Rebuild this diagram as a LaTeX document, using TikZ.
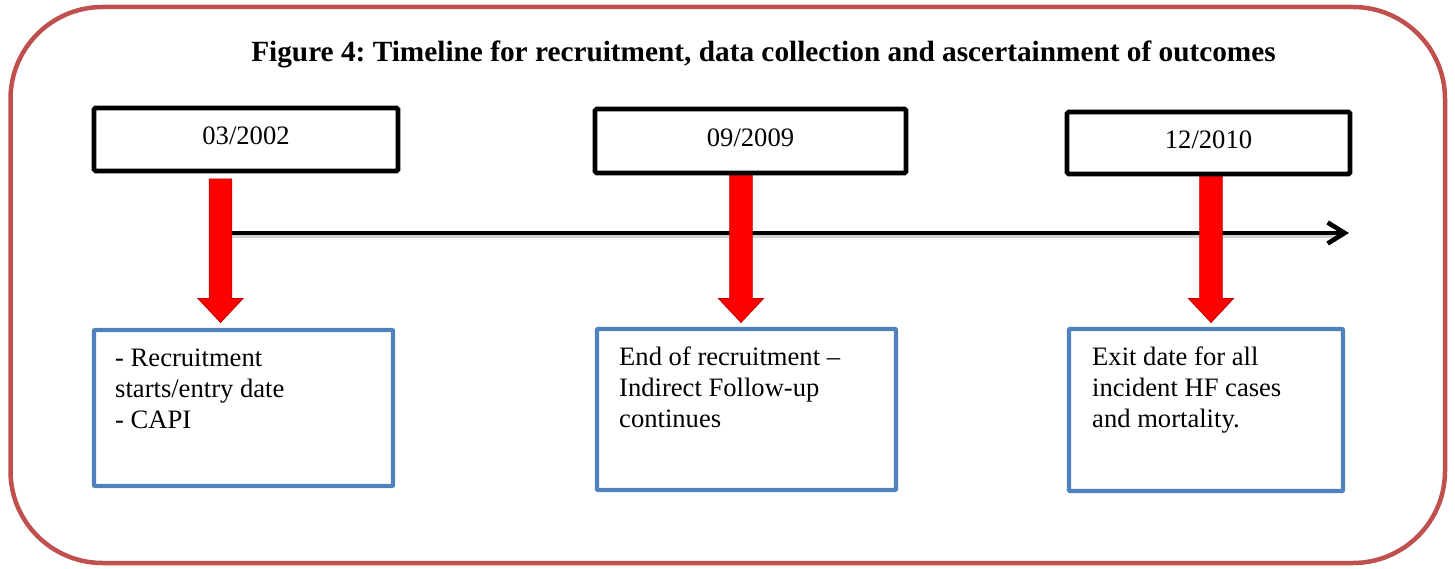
\documentclass[tikz,border=0pt]{standalone}
\usepackage{fontspec}
\setmainfont{Liberation Serif}
\usetikzlibrary{arrows.meta,calc}
\definecolor{frameRed}{HTML}{C0504D}
\definecolor{boxBlue}{HTML}{4F81BD}
\definecolor{arrRed}{HTML}{FF0000}
\definecolor{arrEdge}{HTML}{C00000}
\begin{document}
\frenchspacing
\begin{tikzpicture}[x=1pt,y=-1pt,
  framebox/.style={draw=frameRed,line width=4.5pt,rounded corners=92pt,inner sep=0pt},
  datebox/.style={draw=black,line width=4.6pt,rounded corners=1.5pt,fill=white,inner sep=0pt,
    font=\fontsize{26.6}{30.6}\selectfont,text height=18pt,text depth=7pt},
  infobox/.style={draw=boxBlue,line width=4.4pt,rounded corners=1pt,fill=white,inner sep=0pt},
  infotext/.style={anchor=north west,inner sep=0pt,align=left,font=\fontsize{26.6}{30.6}\selectfont},
  blockarrow/.style={fill=arrRed,draw=arrEdge,line width=0.8pt,line join=miter},
  timeline/.style={line width=4.6pt,-{Straight Barb[length=17pt,width=21pt]}},
  tlshadow/.style={line width=4pt,black!18},
]
\useasboundingbox (0,0) rectangle (1455,569);

% outer frame
\node[framebox,minimum width=1434.5pt,minimum height=556pt] (frame) at (727.75,285) {};

% title
\node[anchor=base,inner sep=0pt,font=\fontsize{29.3}{34}\selectfont\bfseries] (title) at (763.5,62)
  {Figure 4: Timeline for recruitment, data collection and ascertainment of outcomes};

% timeline
\coordinate (tlstart) at (220.5,233);
\coordinate (tlend) at (1349,233);
\draw[tlshadow] ($(tlstart)+(0,3.5)$) -- ($(tlend)+(-8,3.5)$);
\draw[timeline] (tlstart) -- (tlend);

% red block arrows
\foreach \n/\x/\ys in {1/220.5/179,2/741/173,3/1211/173}{
  \coordinate (a\n s) at (\x,\ys);
  \coordinate (a\n t) at (\x,322.5);
  \draw[blockarrow] ($(a\n s)+(-11.3,0)$) -- ($(a\n s)+(11.3,0)$) -- ($(a\n t)+(11.3,-24)$)
    -- ($(a\n t)+(22.5,-24)$) -- (a\n t) -- ($(a\n t)+(-22.5,-24)$) -- ($(a\n t)+(-11.3,-24)$) -- cycle;
}

% date boxes
\node[datebox,minimum width=304pt,minimum height=63pt] (d1) at (246,139.5) {03/2002};
\node[datebox,minimum width=311pt,minimum height=64pt] (d2) at (750.5,141) {09/2009};
\node[datebox,minimum width=283pt,minimum height=62pt] (d3) at (1208.5,143) {12/2010};

% info boxes
\node[infobox,minimum width=299pt,minimum height=156pt] (b1) at (243.5,408) {};
\node[infobox,minimum width=299pt,minimum height=161pt] (b2) at (746.5,409.5) {};
\node[infobox,minimum width=274pt,minimum height=162pt] (b3) at (1206,410) {};

\node[infotext] (t1) at (115,349) {- Recruitment\\starts/entry date\\- CAPI};
\node[infotext] (t2) at (619,347) {End of recruitment –\\Indirect Follow-up\\continues};
\node[infotext] (t3) at (1092,347) {Exit date for all\\incident HF cases\\and mortality.};
\end{tikzpicture}
\end{document}
